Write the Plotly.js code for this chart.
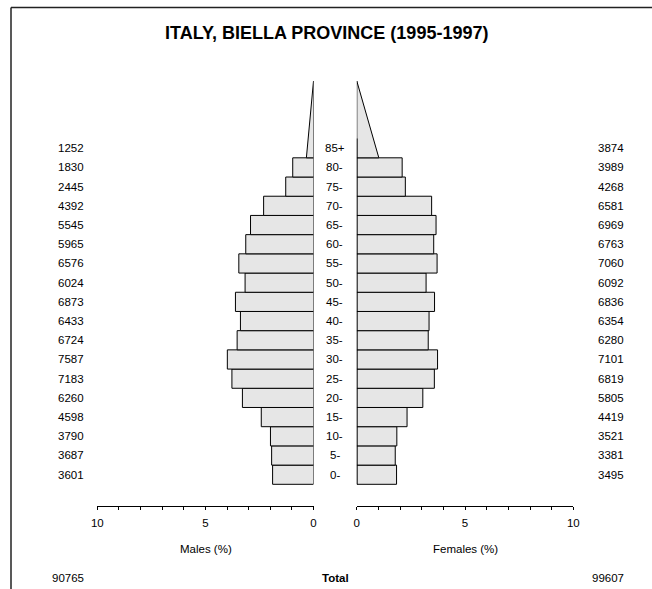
<!DOCTYPE html>
<html>
<head>
<meta charset="utf-8">
<script src="https://cdn.plot.ly/plotly-3.0.1.min.js"></script>
<style>html,body{margin:0;padding:0;background:#fff;}#chart{width:652px;height:589px;}</style>
</head>
<body>
<div id="chart"></div>
<script>
// ---- data ----
var ageGroups = [0, 5, 10, 15, 20, 25, 30, 35, 40, 45, 50, 55, 60, 65, 70, 75, 80, 85];
var ageLabels = ["0-", "5-", "10-", "15-", "20-", "25-", "30-", "35-", "40-", "45-", "50-", "55-", "60-", "65-", "70-", "75-", "80-", "85+"];
var males   = [3601, 3687, 3790, 4598, 6260, 7183, 7587, 6724, 6433, 6873, 6024, 6576, 5965, 5545, 4392, 2445, 1830, 1252];
var females = [3495, 3381, 3521, 4419, 5805, 6819, 7101, 6280, 6354, 6836, 6092, 7060, 6763, 6969, 6581, 4268, 3989, 3874];
var totalMales = 90765;
var totalFemales = 99607;
var axisTickVals = [0, 1, 2, 3, 4, 5, 6, 7, 8, 9, 10];
var axisTickText = ["0", "", "", "", "", "5", "", "", "", "", "10"];

// ---- derived ----
var grand = totalMales + totalFemales;
var W = 652, H = 589;
var FONT = "Liberation Sans, Arial, Helvetica, sans-serif";
var nRect = ageGroups.length - 1;           // rectangular groups
var openAge = ageGroups[nRect];             // 85
var openTop = 105;                           // triangle apex age
var openSpan = (openTop - openAge) / 5;      // groups covered by triangle

var mPct = males.map(function (v) { return v / grand * 100; });
var fPct = females.map(function (v) { return v / grand * 100; });

var rectY = ageGroups.slice(0, nRect).map(function (a) { return a + 2.5; });

var fill = "#e6e6e6";
var traces = [
  { type: "bar", orientation: "h", x: mPct.slice(0, nRect), y: rectY, width: 5,
    xaxis: "x", yaxis: "y", marker: { color: fill, line: { color: "#000", width: 1 } }, hoverinfo: "skip" },
  { type: "bar", orientation: "h", x: fPct.slice(0, nRect), y: rectY, width: 5,
    xaxis: "x2", yaxis: "y", marker: { color: fill, line: { color: "#000", width: 1 } }, hoverinfo: "skip" },
  { type: "scatter", mode: "lines", fill: "toself", fillcolor: fill,
    x: [0, 2 * mPct[nRect] / openSpan, 0, 0], y: [openAge, openAge, openTop, openAge],
    xaxis: "x", yaxis: "y", line: { color: "#000", width: 1 }, hoverinfo: "skip" },
  { type: "scatter", mode: "lines", fill: "toself", fillcolor: fill,
    x: [0, 2 * fPct[nRect] / openSpan, 0, 0], y: [openAge, openAge, openTop, openAge],
    xaxis: "x2", yaxis: "y", line: { color: "#000", width: 1 }, hoverinfo: "skip" }
];

function px(x) { return x / W; }
function py(y) { return 1 - y / H; }

var yBottomPx = 505.5, yTopPx = 81;
var yPerAge = (484.3 - 81) / openTop;
var yMin = -(yBottomPx - 484.3) / yPerAge;

var baseAxis = {
  showgrid: false, zeroline: false, showline: true, linecolor: "#000", linewidth: 1,
  ticks: "outside", ticklen: 3, tickwidth: 1, tickcolor: "#000",
  tickmode: "array", tickvals: axisTickVals, ticktext: axisTickText,
  tickfont: { family: FONT, size: 11.5, color: "#000" }, ticklabelstandoff: 4,
  anchor: "y", fixedrange: true
};
var overlayAxis = {
  showgrid: false, zeroline: false, showline: false,
  ticks: "inside", ticklen: 3, tickwidth: 1, tickcolor: "#000",
  tickmode: "array", tickvals: axisTickVals, showticklabels: false,
  anchor: "y", fixedrange: true
};

var xDomM = [px(97.3), px(313.5)];
var xDomF = [px(356.8), px(573.3)];

var annotations = [];
function ann(text, x, y, xanchor, yref, size, bold) {
  annotations.push({ text: bold ? "<b>" + text + "</b>" : text, x: x, y: y, xref: "paper", yref: yref,
    xanchor: xanchor, yanchor: "middle", showarrow: false,
    font: { family: FONT, size: size, color: "#000" } });
}
for (var i = 0; i < ageGroups.length; i++) {
  var yc = ageGroups[i] + 2.5;
  ann(ageLabels[i], px(334.5), yc, "center", "y", 11.5, false);
  ann(String(males[i]), px(85.5), yc, "right", "y", 11.5, false);
  ann(String(females[i]), px(625.5), yc, "right", "y", 11.5, false);
}
ann("ITALY, BIELLA PROVINCE (1995-1997)", px(326), py(33), "center", "paper", 18, true);
ann("Males (%)", px(205.5), py(549), "center", "paper", 11.5, false);
ann("Females (%)", px(465), py(549), "center", "paper", 11.5, false);
ann(String(totalMales), px(86), py(578), "right", "paper", 11.5, false);
ann("Total", px(335), py(578), "center", "paper", 11.5, true);
ann(String(totalFemales), px(626), py(578), "right", "paper", 11.5, false);

var layout = {
  width: W, height: H, margin: { l: 0, r: 0, t: 0, b: 0 },
  paper_bgcolor: "#fff", plot_bgcolor: "rgba(0,0,0,0)", showlegend: false, bargap: 0,
  xaxis: Object.assign({}, baseAxis, { domain: xDomM, range: [10, 0] }),
  xaxis2: Object.assign({}, baseAxis, { domain: xDomF, range: [0, 10] }),
  xaxis3: Object.assign({}, overlayAxis, { overlaying: "x", range: [10, 0] }),
  xaxis4: Object.assign({}, overlayAxis, { overlaying: "x2", range: [0, 10] }),
  yaxis: { domain: [py(yBottomPx), py(yTopPx)], range: [yMin, openTop], visible: false, fixedrange: true },
  annotations: annotations,
  shapes: [
    { type: "line", xref: "paper", yref: "paper", x0: px(11), x1: 1.05, y0: py(7.5), y1: py(7.5), line: { color: "#222", width: 1.5 } },
    { type: "line", xref: "paper", yref: "paper", x0: px(11), x1: px(11), y0: py(7.5), y1: -0.05, line: { color: "#222", width: 1.5 } },
    { type: "line", xref: "x2", yref: "y", x0: 0, x1: 0, y0: 0, y1: 90, line: { color: "#000", width: 1.5 } }
  ]
};

Plotly.newPlot("chart", traces, layout, { staticPlot: true, displayModeBar: false });
</script>
</body>
</html>
